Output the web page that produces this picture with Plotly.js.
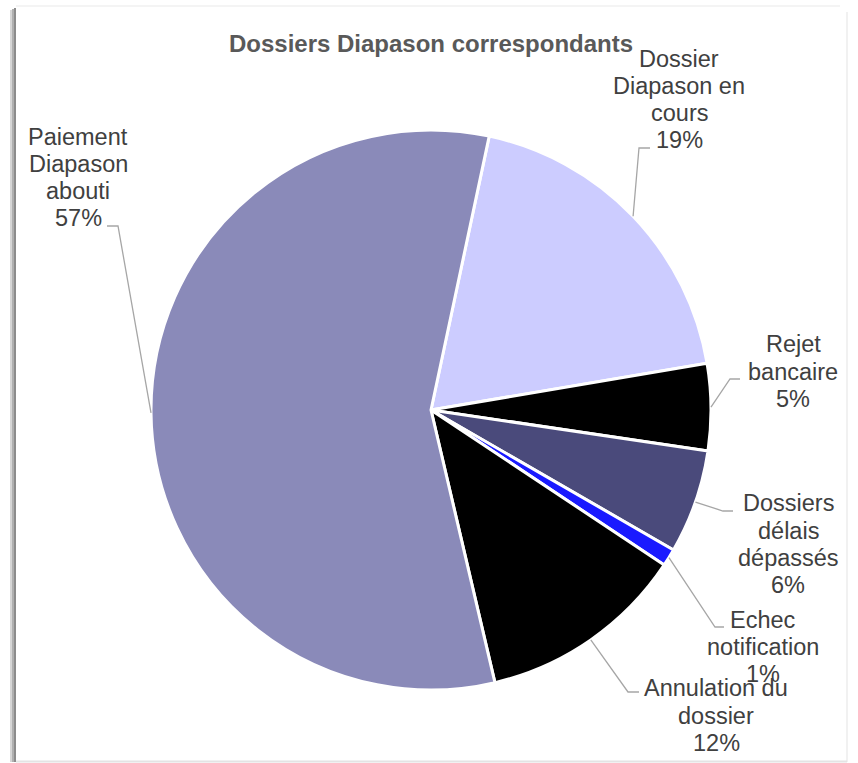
<!DOCTYPE html>
<html>
<head>
<meta charset="utf-8">
<script src="https://cdn.plot.ly/plotly-3.0.1.min.js"></script>
<style>html,body{margin:0;padding:0;background:#fff;}#chart{width:858px;height:763px;}</style>
</head>
<body>
<div id="chart"></div>
<script>
// ---- data ----
const categories = ['Dossier Diapason en cours', 'Rejet bancaire', 'Dossiers délais dépassés', 'Echec notification', 'Annulation du dossier', 'Paiement Diapason abouti'];
const values = [19, 5, 6, 1, 12, 57];
const labelLines = [
  ['Dossier', 'Diapason en', 'cours'],
  ['Rejet', 'bancaire'],
  ['Dossiers', 'délais', 'dépassés'],
  ['Echec', 'notification'],
  ['Annulation du', 'dossier'],
  ['Paiement', 'Diapason', 'abouti']
];
const chartTitle = 'Dossiers Diapason correspondants';

// ---- styles / layout ----
const sliceColors = ['#CCCCFF', '#000000', '#4A4A7B', '#1A1AFF', '#000000', '#8A8AB9'];
const W = 858, H = 763;
const pie = {cx: 431, cy: 410, r: 280, rotation: 12};
// label centre x, first baseline y, leader elbow and end (pixels)
const labelPlace = [
  {x: 679, y: 67,    ex: 639, ey: 148, tx: 650, ty: 148},
  {x: 793, y: 352.5, ex: 730, ey: 379, tx: 740, ty: 379},
  {x: 788, y: 511.5, ex: 723, ey: 511, tx: 733, ty: 511},
  {x: 763, y: 628,   ex: 715, ey: 627, tx: 724, ty: 627},
  {x: 716, y: 696.5, ex: 628, ey: 692, tx: 639, ty: 692},
  {x: 78,  y: 145,   ex: 118, ey: 226, tx: 107, ty: 226}
];
const lineGap = 27.2;
const labFont = 23.5;
const FONT = 'Liberation Sans, Arial, sans-serif';

const px = x => x / W;
const py = y => 1 - y / H;

const total = values.reduce((a, b) => a + b, 0);
const annotations = [];
const shapes = [];
let acc = 0;
values.forEach((v, i) => {
  const mid = (pie.rotation + (acc + v / 2) / total * 360) * Math.PI / 180;
  acc += v;
  const ax = pie.cx + pie.r * Math.sin(mid);
  const ay = pie.cy - pie.r * Math.cos(mid);
  const lp = labelPlace[i];
  const lines = labelLines[i].concat([Math.round(v / total * 100) + '%']);
  lines.forEach((t, k) => {
    const base = lp.y + k * lineGap;
    annotations.push({
      text: t, xref: 'paper', yref: 'paper', showarrow: false,
      x: px(lp.x), y: py(base - 0.3465 * labFont), xanchor: 'center', yanchor: 'middle',
      font: {family: FONT, size: labFont, color: '#404040'}
    });
  });
  shapes.push({
    type: 'path', xref: 'paper', yref: 'paper',
    path: `M ${px(ax)},${py(ay)} L ${px(lp.ex)},${py(lp.ey)} L ${px(lp.tx)},${py(lp.ty)}`,
    line: {color: '#A6A6A6', width: 1.3}
  });
});

// frame
shapes.push({type: 'rect', xref: 'paper', yref: 'paper', x0: px(10), x1: px(12), y0: py(762), y1: py(10), fillcolor: '#d6d6d6', line: {width: 0}, layer: 'below'});
shapes.push({type: 'rect', xref: 'paper', yref: 'paper', x0: px(12), x1: px(14), y0: py(762), y1: py(9), fillcolor: '#b0b0b0', line: {width: 0}, layer: 'below'});
shapes.push({type: 'rect', xref: 'paper', yref: 'paper', x0: px(14), x1: px(16), y0: py(762), y1: py(8), fillcolor: '#8c8c8c', line: {width: 0}, layer: 'below'});
shapes.push({type: 'line', xref: 'paper', yref: 'paper', x0: px(16), x1: px(840), y0: py(6), y1: py(6), line: {color: '#f0f0f0', width: 1.5}, layer: 'below'});
shapes.push({type: 'line', xref: 'paper', yref: 'paper', x0: px(847), x1: px(847), y0: py(12), y1: py(762), line: {color: '#ececec', width: 1.5}, layer: 'below'});
shapes.push({type: 'line', xref: 'paper', yref: 'paper', x0: px(16), x1: px(847), y0: py(761.5), y1: py(761.5), line: {color: '#e4e4e4', width: 2}, layer: 'below'});

const trace = {
  type: 'pie',
  labels: categories,
  values: values,
  sort: false,
  direction: 'clockwise',
  rotation: pie.rotation,
  textinfo: 'none',
  hoverinfo: 'label+percent',
  automargin: false,
  marker: {colors: sliceColors, line: {color: '#ffffff', width: 3}},
  domain: {x: [px(pie.cx - pie.r), px(pie.cx + pie.r)], y: [py(pie.cy + pie.r), py(pie.cy - pie.r)]}
};

const layout = {
  width: W, height: H,
  margin: {l: 0, r: 0, t: 0, b: 0},
  paper_bgcolor: '#ffffff',
  showlegend: false,
  title: {
    text: '<b>' + chartTitle + '</b>',
    x: px(431), xanchor: 'center', y: py(43.5), yanchor: 'middle',
    font: {family: FONT, size: 24, color: '#595959'}
  },
  annotations: annotations,
  shapes: shapes
};

Plotly.newPlot('chart', [trace], layout, {displayModeBar: false, staticPlot: true});
</script>
</body>
</html>
